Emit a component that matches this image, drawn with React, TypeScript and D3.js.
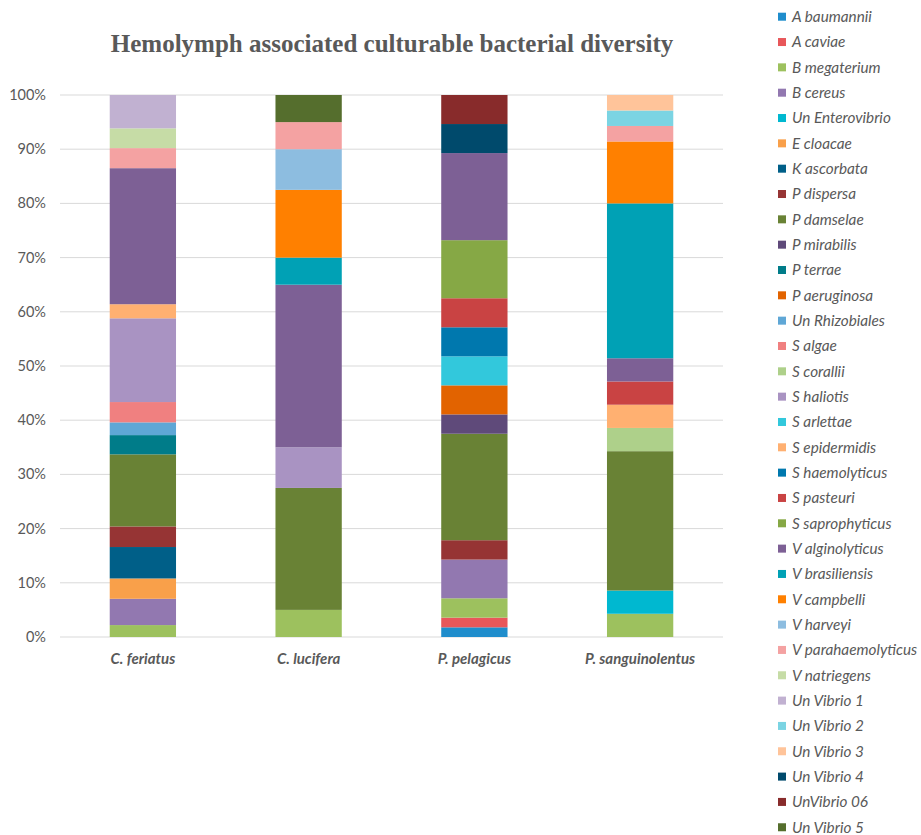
import React from "react";
import * as d3 from "d3";

const title = "Hemolymph associated culturable bacterial diversity";

const categories = ["C. feriatus", "C. lucifera", "P. pelagicus", "P. sanguinolentus"];

const species = [
  "A baumannii", "A caviae", "B megaterium", "B cereus", "Un Enterovibrio", "E cloacae",
  "K ascorbata", "P dispersa", "P damselae", "P mirabilis", "P terrae", "P aeruginosa",
  "Un Rhizobiales", "S algae", "S corallii", "S haliotis", "S arlettae", "S epidermidis",
  "S haemolyticus", "S pasteuri", "S saprophyticus", "V alginolyticus", "V brasiliensis",
  "V campbelli", "V harveyi", "V parahaemolyticus", "V natriegens", "Un Vibrio 1",
  "Un Vibrio 2", "Un Vibrio 3", "Un Vibrio 4", "UnVibrio 06", "Un Vibrio 5",
];

const colors = [
  "#1f8dcc", "#e8575a", "#9dc15e", "#9278b0", "#00b8d0", "#f9a04a",
  "#005f88", "#963434", "#698235", "#5f4a7a", "#007c89", "#e26300",
  "#5fa7d6", "#f08080", "#aed08a", "#a993c2", "#32c8dc", "#ffb071",
  "#0078ae", "#c94343", "#86a845", "#7d6095", "#00a1b5",
  "#ff8000", "#8dbde0", "#f4a2a2", "#c6dca6", "#c1b1d1",
  "#7bd4e3", "#ffc49a", "#004a6c", "#882b2b", "#556e2d",
];

// percentage of isolates per species (same order as `species`)
const cFeriatus = [0, 0, 2.2, 4.85, 0, 3.75, 5.8, 3.8, 13.3, 0, 3.55, 0, 2.35, 3.75, 0, 15.45, 0, 2.6, 0, 0, 0, 25.1, 0, 0, 0, 3.7, 3.65, 6.15, 0, 0, 0, 0, 0];
const cLucifera = [0, 0, 5, 0, 0, 0, 0, 0, 22.5, 0, 0, 0, 0, 0, 0, 7.5, 0, 0, 0, 0, 0, 30, 5, 12.5, 7.5, 5, 0, 0, 0, 0, 0, 0, 5];
const pPelagicus = [1, 1, 2, 4, 0, 0, 0, 2, 11, 2, 0, 3, 0, 0, 0, 0, 3, 0, 3, 3, 6, 9, 0, 0, 0, 0, 0, 0, 0, 0, 3, 3, 0];
const pSanguinolentus = [0, 0, 3, 0, 3, 0, 0, 0, 18, 0, 0, 0, 0, 0, 3, 0, 0, 3, 0, 3, 0, 3, 20, 8, 0, 2, 0, 0, 2, 2, 0, 0, 0];

const seriesValues = [cFeriatus, cLucifera, pPelagicus, pSanguinolentus];
const yTicks = [0, 0.1, 0.2, 0.3, 0.4, 0.5, 0.6, 0.7, 0.8, 0.9, 1];

const W = 921;
const H = 835;
const plotLeft = 60;
const plotRight = 723;
const plotTop = 95;
const plotBottom = 637;
const grey = "#595959";
const sans = "Lato, 'Open Sans', sans-serif";

export default function App() {
  const rows = categories.map((c, i) => {
    const r: any = { cat: c };
    species.forEach((s, j) => (r[s] = seriesValues[i][j]));
    return r;
  });
  const stacked = d3.stack<any>().keys(species).offset(d3.stackOffsetExpand)(rows);

  const x = d3.scaleBand().domain(categories).range([plotLeft, plotRight]).paddingInner(0.6).paddingOuter(0.3);
  const y = d3.scaleLinear().domain([0, 1]).range([plotBottom, plotTop]);
  const color = d3.scaleOrdinal<string, string>().domain(species).range(colors);
  const fmt = d3.format(".0%");

  const legendX = 778;
  const legendY0 = 16.7;
  const legendStep = 25.33;

  return (
    <svg width={W} height={H} style={{ position: "absolute", left: 0, top: 0, background: "#fff" }}>
      <rect x={0} y={0} width={W} height={H} fill="#fff" />
      <text x={392} y={52} textAnchor="middle" fontFamily="'Liberation Serif', 'Times New Roman', serif" fontWeight="bold" fontSize={25} fill={grey}>
        {title}
      </text>
      {yTicks.map((t) => (
        <g key={t}>
          <line x1={plotLeft} x2={plotRight} y1={y(t)} y2={y(t)} stroke="#d9d9d9" strokeWidth={1} />
          <text x={46} y={y(t)} dy="0.35em" textAnchor="end" fontFamily={sans} fontSize={14.5} fill={grey}>
            {fmt(t)}
          </text>
        </g>
      ))}
      {stacked.map((s) => (
        <g key={s.key} fill={color(s.key)}>
          {s.map((d, i) => {
            const h = y(d[0]) - y(d[1]);
            if (h <= 0) return null;
            return <rect key={i} x={x(categories[i])} y={y(d[1])} width={x.bandwidth()} height={h} />;
          })}
        </g>
      ))}
      {categories.map((c) => (
        <text key={c} x={(x(c) as number) + x.bandwidth() / 2} y={664} textAnchor="middle" fontFamily={sans} fontStyle="italic" fontWeight="bold" fontSize={15} fill={grey}>
          {c}
        </text>
      ))}
      {species.map((s, i) => (
        <g key={s} transform={`translate(${legendX},${legendY0 + i * legendStep})`}>
          <rect x={0} y={-4} width={8} height={8} fill={color(s)} />
          <text x={14} y={0} dy="0.35em" fontFamily={sans} fontStyle="italic" fontSize={15.3} fill={grey}>
            {s}
          </text>
        </g>
      ))}
    </svg>
  );
}
